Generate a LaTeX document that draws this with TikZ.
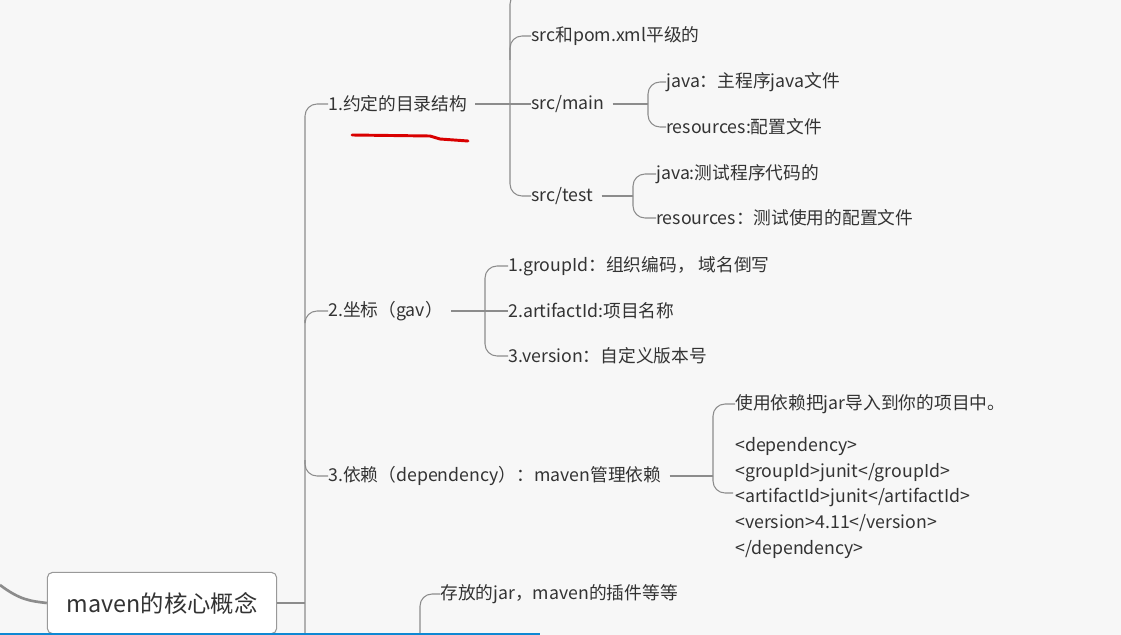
\documentclass[tikz,border=0pt]{standalone}
\usepackage{fontspec}
\setmainfont{Noto Sans CJK SC}
\begin{document}
\begin{tikzpicture}[x=0.75pt,y=-0.75pt,
  t/.style={anchor=west,inner sep=0pt,font=\fontsize{13.3}{15}\selectfont,text=black!80},
  ln/.style={draw=black!45,line width=0.8pt,rounded corners=9pt}]
\useasboundingbox (0,0) rectangle (1121,635);
\fill[black!3] (0,0) rectangle (1121,635);
% root
\node[draw=black!40,fill=white,rounded corners=4pt,minimum width=172pt,minimum height=46pt,font=\fontsize{17.5}{20}\selectfont,text=black!80,line width=0.8pt] (root) at (162,603) {maven的核心概念};
\coordinate (lin) at (0,585);
\draw[black!45,line width=2pt] (lin) .. controls (20,600) and (30,601) .. (root.west);
% level1
\node[t] (c1) at (328,104) {1.约定的目录结构};
\node[t] (c2) at (328,311) {2.坐标（gav）};
\node[t] (c3) at (328,476) {3.依赖（dependency）：maven管理依赖};
\node[t] (c4) at (440,594) {存放的jar，maven的插件等等};
\coordinate (bot) at (305,640);
\coordinate (bot4) at (420,640);
\draw[ln] (root.east) -- (305,603);
\draw[ln] (bot) -- (305,104) -- (c1.west);
\draw[ln] (305,320) |- (c2.west);
\draw[ln] (305,460) |- (c3.west);
\draw[ln] (bot4) |- (c4.west);
\draw[red!85!black,line width=2.2pt,line cap=round] (352,135) -- (430,136) -- (440,139) -- (468,141);
% c1 children
\node[t] (a0) at (531,36) {src和pom.xml平级的};
\node[t] (a1) at (531,104) {src/main};
\node[t] (a2) at (531,196) {src/test};
\coordinate (atop) at (530,-8);
\draw[ln] (c1.east) ++(6pt,0) -- (510,104);
\draw[ln] (atop) -| (510,196) -- (a2.west);
\draw[ln] (510,60) |- (a0.west);
\draw[ln] (510,104) -- (a1.west);
\node[t] (m1) at (666,82) {java：主程序java文件};
\node[t] (m2) at (666,127) {resources:配置文件};
\draw[ln] ([xshift=6pt]a1.east) -- (648,104);
\draw[ln] (648,104) |- (m1.west);
\draw[ln] (648,104) |- (m2.west);
\node[t] (s1) at (656,174) {java:测试程序代码的};
\node[t] (s2) at (656,218) {resources：测试使用的配置文件};
\draw[ln] ([xshift=6pt]a2.east) -- (633,196);
\draw[ln] (633,196) |- (s1.west);
\draw[ln] (633,196) |- (s2.west);
% c2 children
\node[t] (g1) at (508,266) {1.groupId：组织编码， 域名倒写};
\node[t] (g2) at (508,311) {2.artifactId:项目名称};
\node[t] (g3) at (508,356) {3.version：自定义版本号};
\draw[ln] ([xshift=6pt]c2.east) -- (g2.west);
\draw[ln] (485,311) |- (g1.west);
\draw[ln] (485,311) |- (g3.west);
% c3 children
\node[t] (d1) at (735,404) {使用依赖把jar导入到你的项目中。};
\node[t,align=left,anchor=north west,font=\fontsize{13.3}{19.3}\selectfont] (d2) at (735,437) {<dependency>\\<groupId>junit</groupId>\\<artifactId>junit</artifactId>\\<version>4.11</version>\\</dependency>};
\draw[ln] ([xshift=6pt]c3.east) -- (713,476);
\draw[ln] (713,476) |- (d1.west);
\draw[ln] (713,476) |- (733,493);
\draw[cyan!70!blue,line width=2pt] (0,634) -- (540,634);
\end{tikzpicture}
\end{document}
